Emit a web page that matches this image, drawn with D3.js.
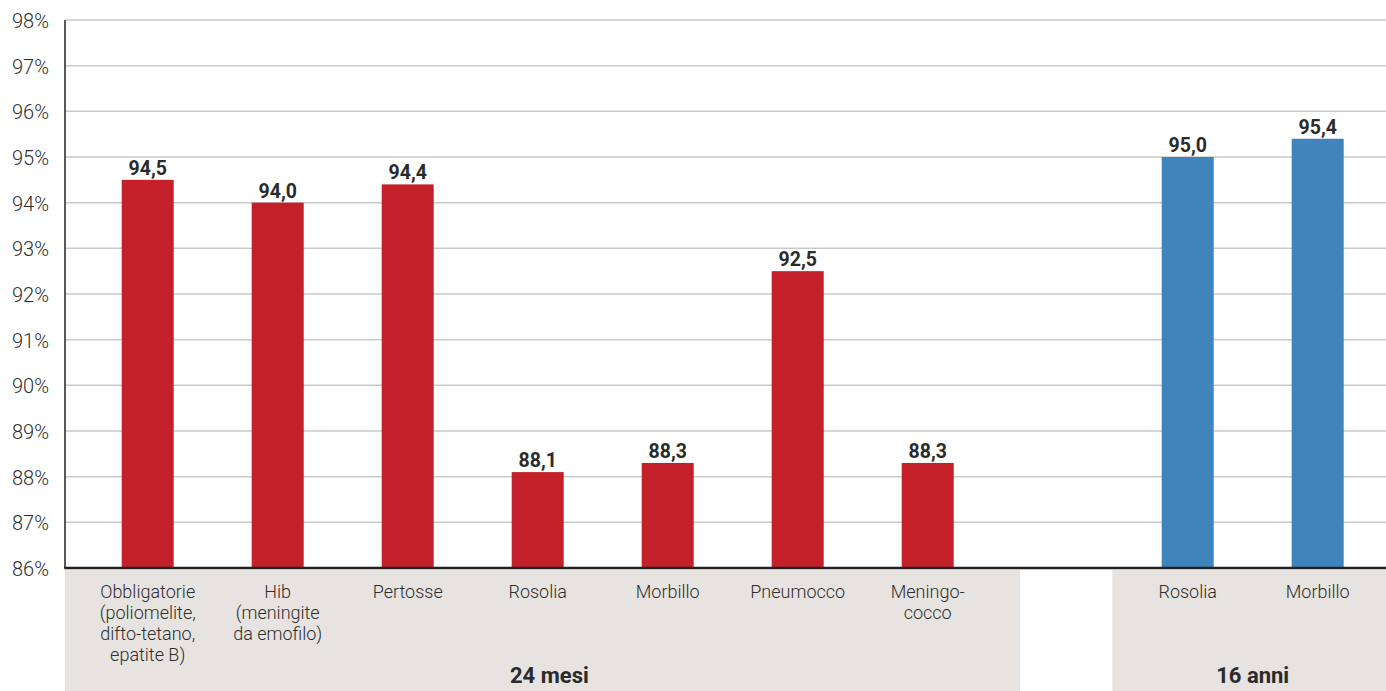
<!DOCTYPE html>
<html>
<head>
<meta charset="utf-8">
<script src="https://cdn.jsdelivr.net/npm/d3@7"></script>
<style>
  body { margin: 0; background: #fff; }
  text { font-family: Roboto, 'Open Sans', sans-serif; }
</style>
</head>
<body>
<div id="graf"></div>
<script>
// Copertura vaccinale: 24 mesi e 16 anni

// Dati
categorie = [
  ['Obbligatorie', '(poliomelite,', 'difto-tetano,', 'epatite B)'],
  ['Hib', '(meningite', 'da emofilo)'],
  ['Pertosse'],
  ['Rosolia'],
  ['Morbillo'],
  ['Pneumocco'],
  ['Meningo-', 'cocco'],
  [],
  ['Rosolia'],
  ['Morbillo']
]
valori  = [94.5, 94.0, 94.4, 88.1, 88.3, 92.5, 88.3, null, 95.0, 95.4]
gruppo  = ['24 mesi', '24 mesi', '24 mesi', '24 mesi', '24 mesi', '24 mesi', '24 mesi', null, '16 anni', '16 anni']
gruppi  = ['24 mesi', '16 anni']
yTicks  = [86, 87, 88, 89, 90, 91, 92, 93, 94, 95, 96, 97, 98]

colori = { '24 mesi': '#c4202a', '16 anni': '#4084bc' }

ancho_total = 1386
alto_total  = 691
margins = { top: 20, left: 65, bottom: 123 }
altoPlot = alto_total - margins.top - margins.bottom   // fondo a 568

svg = d3.select('#graf').append('svg')
  .attr('width', ancho_total)
  .attr('height', alto_total)

// Escaladores
x = d3.scaleBand()
  .domain(d3.range(valori.length))
  .range([82.7, 1382.7])
  .paddingInner(0.6)
  .paddingOuter(0.3)

y = d3.scaleLinear()
  .domain([86, 98])
  .range([margins.top + altoPlot, margins.top])

fondo = y(86)
cx = i => x(i) + x.bandwidth() / 2

// Fondo grigio per i gruppi
box1 = [margins.left, cx(6) + 0.71 * x.step()]
box2 = [cx(8) - 0.58 * x.step(), ancho_total]
svg.append('rect')
  .attr('x', box1[0]).attr('y', fondo + 2)
  .attr('width', box1[1] - box1[0]).attr('height', alto_total - fondo - 2)
  .attr('fill', '#e7e3e0')
svg.append('rect')
  .attr('x', box2[0]).attr('y', fondo + 2)
  .attr('width', box2[1] - box2[0]).attr('height', alto_total - fondo - 2)
  .attr('fill', '#e7e3e0')

// Griglia
svg.append('g')
  .selectAll('line')
  .data(yTicks.filter(d => d > 86))
  .join('line')
    .attr('x1', margins.left).attr('x2', ancho_total)
    .attr('y1', d => y(d)).attr('y2', d => y(d))
    .attr('stroke', '#c9c9c9')
    .attr('stroke-width', 1.5)

// Etichette asse Y
svg.append('g')
  .selectAll('text')
  .data(yTicks)
  .join('text')
    .attr('x', 49)
    .attr('y', d => y(d) + 1)
    .attr('dy', '0.35em')
    .attr('text-anchor', 'end')
    .attr('font-size', '20px')
    .attr('font-weight', 300)
    .attr('fill', '#2e2e2e')
    .text(d => d + '%')

// Barre
idx = d3.range(valori.length).filter(i => valori[i] != null)
svg.append('g')
  .selectAll('rect')
  .data(idx)
  .join('rect')
    .attr('x', i => x(i))
    .attr('y', i => y(valori[i]))
    .attr('width', x.bandwidth())
    .attr('height', i => fondo - y(valori[i]))
    .attr('fill', i => colori[gruppo[i]])

// Valori
svg.append('g')
  .selectAll('text')
  .data(idx)
  .join('text')
    .attr('x', i => cx(i))
    .attr('y', i => y(valori[i]) - 5)
    .attr('text-anchor', 'middle')
    .attr('font-size', '19.5px')
    .attr('font-weight', 700)
    .attr('fill', '#2b2b2b')
    .text(i => d3.format('.1f')(valori[i]).replace('.', ','))

// Assi
svg.append('line')
  .attr('x1', margins.left).attr('x2', margins.left)
  .attr('y1', margins.top).attr('y2', fondo)
  .attr('stroke', '#222').attr('stroke-width', 1.5)
svg.append('line')
  .attr('x1', margins.left - 0.75).attr('x2', ancho_total)
  .attr('y1', fondo).attr('y2', fondo)
  .attr('stroke', '#222').attr('stroke-width', 2.5)

// Categorie
cat = svg.append('g')
  .selectAll('text')
  .data(d3.range(categorie.length))
  .join('text')
    .attr('x', i => cx(i))
    .attr('y', fondo + 30)
    .attr('text-anchor', 'middle')
    .attr('font-size', '18px')
    .attr('font-weight', 300)
    .attr('fill', '#2e2e2e')
cat.each(function(i) {
  d3.select(this).selectAll('tspan')
    .data(categorie[i])
    .join('tspan')
      .attr('x', cx(i))
      .attr('dy', (d, k) => k == 0 ? 0 : 21)
      .text(d => d)
})

// Gruppi
svg.append('text')
  .attr('x', cx(3) + 0.09 * x.step())
  .attr('y', 683)
  .attr('text-anchor', 'middle')
  .attr('font-size', '22px')
  .attr('font-weight', 700)
  .attr('fill', '#2b2b2b')
  .text(gruppi[0])
svg.append('text')
  .attr('x', (cx(8) + cx(9)) / 2)
  .attr('y', 683)
  .attr('text-anchor', 'middle')
  .attr('font-size', '22px')
  .attr('font-weight', 700)
  .attr('fill', '#2b2b2b')
  .text(gruppi[1])
</script>
</body>
</html>
